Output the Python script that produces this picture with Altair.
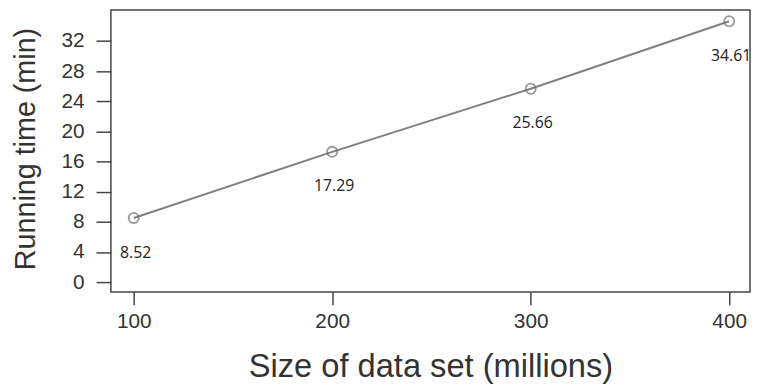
import altair as alt
import pandas as pd

sizes = [100, 200, 300, 400]
times = [8.52, 17.29, 25.66, 34.61]
labels = ["8.52", "17.29", "25.66", "34.61"]
x_ticks = [100, 200, 300, 400]
y_ticks = [0, 4, 8, 12, 16, 20, 24, 28, 32]

df = pd.DataFrame({"size": sizes, "time": times, "label": labels})

x_enc = alt.X(
    "size:Q",
    scale=alt.Scale(domain=[88.5, 410.5], nice=False, zero=False),
    axis=alt.Axis(
        values=x_ticks, title="Size of data set (millions)", grid=False, domain=False,
        tickSize=13, tickColor="#444", tickWidth=1.5, labelPadding=6,
        labelFont="Liberation Sans", labelFontSize=21, labelColor="#333",
        labelOverlap=False,
        titleFont="Liberation Sans", titleFontSize=33, titleFontWeight="normal",
        titleColor="#333", titleY=85, titleBaseline="alphabetic",
    ),
)
y_enc = alt.Y(
    "time:Q",
    scale=alt.Scale(domain=[-1.3, 36.1], nice=False, zero=False),
    axis=alt.Axis(
        values=y_ticks, title="Running time (min)", grid=False, domain=False,
        tickSize=15, tickColor="#444", tickWidth=1.5, labelPadding=12,
        labelFont="Liberation Sans", labelFontSize=21, labelColor="#333",
        labelOverlap=False,
        titleFont="Liberation Sans", titleFontSize=29, titleFontWeight="normal",
        titleColor="#333", titleX=-71, titleY=140, titleBaseline="bottom",
    ),
)

base = alt.Chart(df).encode(x=x_enc, y=y_enc)
line = base.mark_line(color="#808080", strokeWidth=2)
pts = base.mark_point(shape="circle", filled=False, color="#707070", size=105, strokeWidth=1.8)
txt = base.mark_text(font="Open Sans", fontSize=16, color="#222", dx=2, dy=35).encode(
    text="label:N"
)

chart = (
    alt.layer(line, pts, txt)
    .properties(
        width=646,
        height=285,
        autosize=alt.AutoSizeParams(type="none"),
        padding={"left": 104, "top": 0, "right": 2, "bottom": 93},
    )
    .configure_view(stroke="#444", strokeWidth=1.5)
)

chart.save("out.html", embed_options={"renderer": "svg", "actions": False})
